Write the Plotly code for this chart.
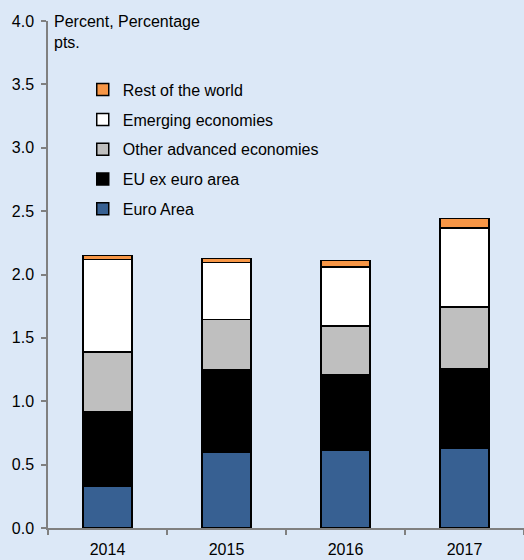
import plotly.graph_objects as go

years = ["2014", "2015", "2016", "2017"]
euro_area = [0.33, 0.60, 0.615, 0.627]
eu_ex_euro = [0.585, 0.65, 0.595, 0.63]
other_advanced = [0.475, 0.395, 0.385, 0.487]
emerging = [0.73, 0.45, 0.465, 0.623]
rest_of_world = [0.03, 0.03, 0.05, 0.076]

series = [
    ("Euro Area", euro_area, "#376092"),
    ("EU ex euro area", eu_ex_euro, "#000000"),
    ("Other advanced economies", other_advanced, "#BFBFBF"),
    ("Emerging economies", emerging, "#FFFFFF"),
    ("Rest of the world", rest_of_world, "#F79646"),
]

bg = "#DCE8F7"
font = "Liberation Sans, Arial, sans-serif"

fig = go.Figure()
for i, (name, vals, color) in enumerate(series):
    fig.add_trace(go.Bar(
        x=years, y=vals, name=name, legendgroup=name,
        legendrank=100 - i,  # top of the stack first in the legend
        marker=dict(color=color, line=dict(color="#000000", width=1.5)),
        width=0.41,
    ))

fig.add_annotation(
    text="Percent, Percentage<br>pts.", xref="paper", yref="paper",
    x=0.008, y=1.02, xanchor="left", yanchor="top", align="left",
    showarrow=False, font=dict(size=16, color="#000000", family=font),
)

fig.update_layout(
    width=524, height=560,
    barmode="stack",
    paper_bgcolor=bg, plot_bgcolor=bg,
    margin=dict(l=48, r=0, t=21, b=32),
    font=dict(family=font, size=16, color="#000000"),
    showlegend=True,
    legend=dict(
        x=0.073, y=0.898, xanchor="left", yanchor="top",
        traceorder="grouped", tracegroupgap=6,
        bgcolor="rgba(0,0,0,0)", font=dict(size=16),
    ),
    xaxis=dict(
        showline=True, linecolor="#808080", linewidth=1.5,
        ticks="outside", tickson="boundaries", ticklen=5, tickcolor="#808080",
        tickwidth=1.5, showgrid=False, range=[-0.5, 3.5],
        automargin=False, ticklabelstandoff=6,
    ),
    yaxis=dict(
        range=[0, 4], dtick=0.5, tickformat=".1f",
        showline=True, linecolor="#808080", linewidth=1.5,
        ticks="outside", ticklen=5, tickcolor="#808080", tickwidth=1.5,
        showgrid=False, zeroline=False,
        automargin=False, ticklabelstandoff=4,
    ),
)

fig.write_html(
    "out.html",
    config={"displayModeBar": False},
    post_script="document.body.style.margin='0';",
)
